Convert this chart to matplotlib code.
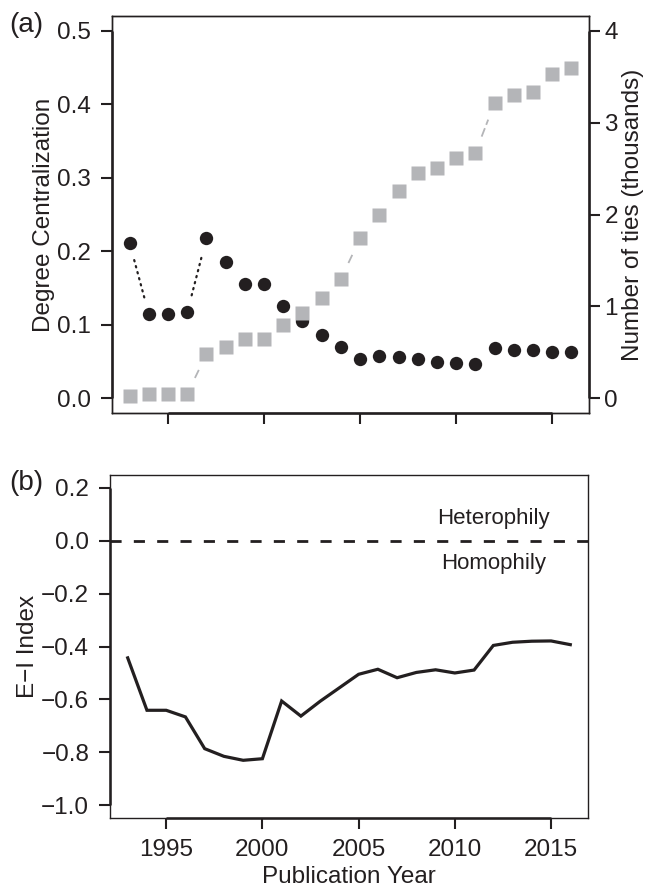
import matplotlib
matplotlib.use('Agg')
import matplotlib.pyplot as plt
import numpy as np

plt.rcParams['font.family'] = ['Liberation Sans', 'DejaVu Sans']

# data
years = list(range(1993, 2017))
centralization = [0.211, 0.114, 0.114, 0.117, 0.218, 0.186, 0.155, 0.155,
                  0.125, 0.105, 0.086, 0.070, 0.054, 0.058, 0.056, 0.053,
                  0.050, 0.048, 0.046, 0.069, 0.066, 0.066, 0.063, 0.063]
ties_thousands = [0.02, 0.05, 0.05, 0.05, 0.48, 0.56, 0.64, 0.64,
                  0.80, 0.93, 1.09, 1.30, 1.74, 2.00, 2.26, 2.45,
                  2.51, 2.62, 2.67, 3.21, 3.30, 3.33, 3.53, 3.59]
ei_index = [-0.443, -0.641, -0.641, -0.666, -0.786, -0.815, -0.830, -0.824,
            -0.606, -0.663, -0.607, -0.556, -0.505, -0.486, -0.518, -0.498,
            -0.488, -0.500, -0.489, -0.396, -0.384, -0.380, -0.379, -0.393]

x_ticks = [1995, 2000, 2005, 2010, 2015]
cent_ticks = [0.0, 0.1, 0.2, 0.3, 0.4, 0.5]
ties_ticks = [0, 1, 2, 3, 4]
ei_ticks = [0.2, 0.0, -0.2, -0.4, -0.6, -0.8, -1.0]

INK = '#231f20'
GREY = '#b4b5b8'
FS = 17.5
GAP = 17.5  # px, gap around points for R-style type="b" lines

W, H = 649, 894
fig = plt.figure(figsize=(W / 100, H / 100), dpi=100)


def fx(px):
    return px / W


def fy(py):
    return 1 - py / H


ax = fig.add_axes([fx(112), fy(413), fx(589 - 112), fy(16) - fy(413)])
ax2 = ax.twinx()
bx = fig.add_axes([fx(110), fy(818), fx(588 - 110), fy(475) - fy(818)])


def style(a, pad=7):
    for s in a.spines.values():
        s.set_linewidth(1.0)
        s.set_color(INK)
    a.tick_params(axis='both', direction='out', length=8, width=1.5,
                  pad=pad, labelsize=FS, colors=INK)


def axis_line(a, side, lo, hi):
    # R draws a heavier axis line spanning the tick range over the thin box
    if side == 'left':
        a.plot([0, 0], [lo, hi], transform=a.get_yaxis_transform(),
               color=INK, lw=1.8, clip_on=False, solid_capstyle='butt')
    elif side == 'right':
        a.plot([1, 1], [lo, hi], transform=a.get_yaxis_transform(),
               color=INK, lw=1.8, clip_on=False, solid_capstyle='butt')
    else:
        a.plot([lo, hi], [0, 0], transform=a.get_xaxis_transform(),
               color=INK, lw=1.8, clip_on=False, solid_capstyle='butt')


def gapped_lines(a, xs, ys, **kw):
    pts = a.transData.transform(np.column_stack([xs, ys]))
    inv = a.transData.inverted()
    for p, q in zip(pts[:-1], pts[1:]):
        d = np.hypot(*(q - p))
        if d <= 2 * GAP:
            continue
        u = (q - p) / d
        seg = inv.transform(np.array([p + u * GAP, q - u * GAP]))
        a.plot(seg[:, 0], seg[:, 1], **kw)


# ---- panel (a)
xlim = (1992.08, 2016.92)
ax.set_xlim(*xlim)
ax.set_ylim(-0.02, 0.52)
ax2.set_ylim(-0.16, 4.16)

gapped_lines(ax, years, centralization, color=INK, lw=1.6,
             linestyle=(0, (0.6, 2.2)), dash_capstyle='round')
ax.plot(years, centralization, 'o', ms=9.6, color=INK, mec='none')
gapped_lines(ax2, years, ties_thousands, color=GREY, lw=1.3,
             linestyle=(0, (5, 2)))
ax2.plot(years, ties_thousands, 's', ms=10, color=GREY, mec='none')

ax.set_xticks(x_ticks)
ax.set_xticklabels([])
ax.set_yticks(cent_ticks)
ax.set_yticklabels([f'{v:.1f}' for v in cent_ticks])
ax2.set_yticks(ties_ticks)
ax2.set_yticklabels([str(v) for v in ties_ticks])
style(ax)
style(ax2, pad=3)
ax.set_ylabel('Degree Centralization', fontsize=FS, color=INK)
ax.yaxis.set_label_coords(-0.1195, 0.5)
ax2.set_ylabel('Number of ties (thousands)', fontsize=FS, color=INK)
ax2.yaxis.set_label_coords(1.0692, 0.5)
axis_line(ax, 'left', cent_ticks[0], cent_ticks[-1])
axis_line(ax2, 'right', ties_ticks[0], ties_ticks[-1])
axis_line(ax, 'bottom', x_ticks[0], x_ticks[-1])

# ---- panel (b)
bx.set_xlim(*xlim)
bx.set_ylim(-1.048, 0.248)
bx.axhline(0, color=INK, lw=2.0, linestyle=(0, (4, 4.4)))
bx.plot(years, ei_index, color=INK, lw=2.3, solid_joinstyle='miter')
bx.text(2012.0, 0.085, 'Heterophily', fontsize=16, color=INK,
        ha='center', va='center')
bx.text(2012.0, -0.085, 'Homophily', fontsize=16, color=INK,
        ha='center', va='center')
bx.set_xticks(x_ticks)
bx.set_xticklabels([str(v) for v in x_ticks])
bx.set_yticks(ei_ticks)
bx.set_yticklabels([f'{v:.1f}'.replace('-', '\u2212') for v in ei_ticks])
style(bx)
bx.set_ylabel('E\u2212I Index', fontsize=FS, color=INK)
bx.yaxis.set_label_coords(-0.148, 0.5)
bx.set_xlabel('Publication Year', fontsize=FS, color=INK, labelpad=4)
axis_line(bx, 'left', ei_ticks[-1], ei_ticks[0])
axis_line(bx, 'bottom', x_ticks[0], x_ticks[-1])

fig.text(fx(9), fy(25), '(a)', fontsize=20, color=INK, va='center', ha='left')
fig.text(fx(9), fy(483), '(b)', fontsize=20, color=INK, va='center', ha='left')

fig.savefig('out.png', dpi=100)
